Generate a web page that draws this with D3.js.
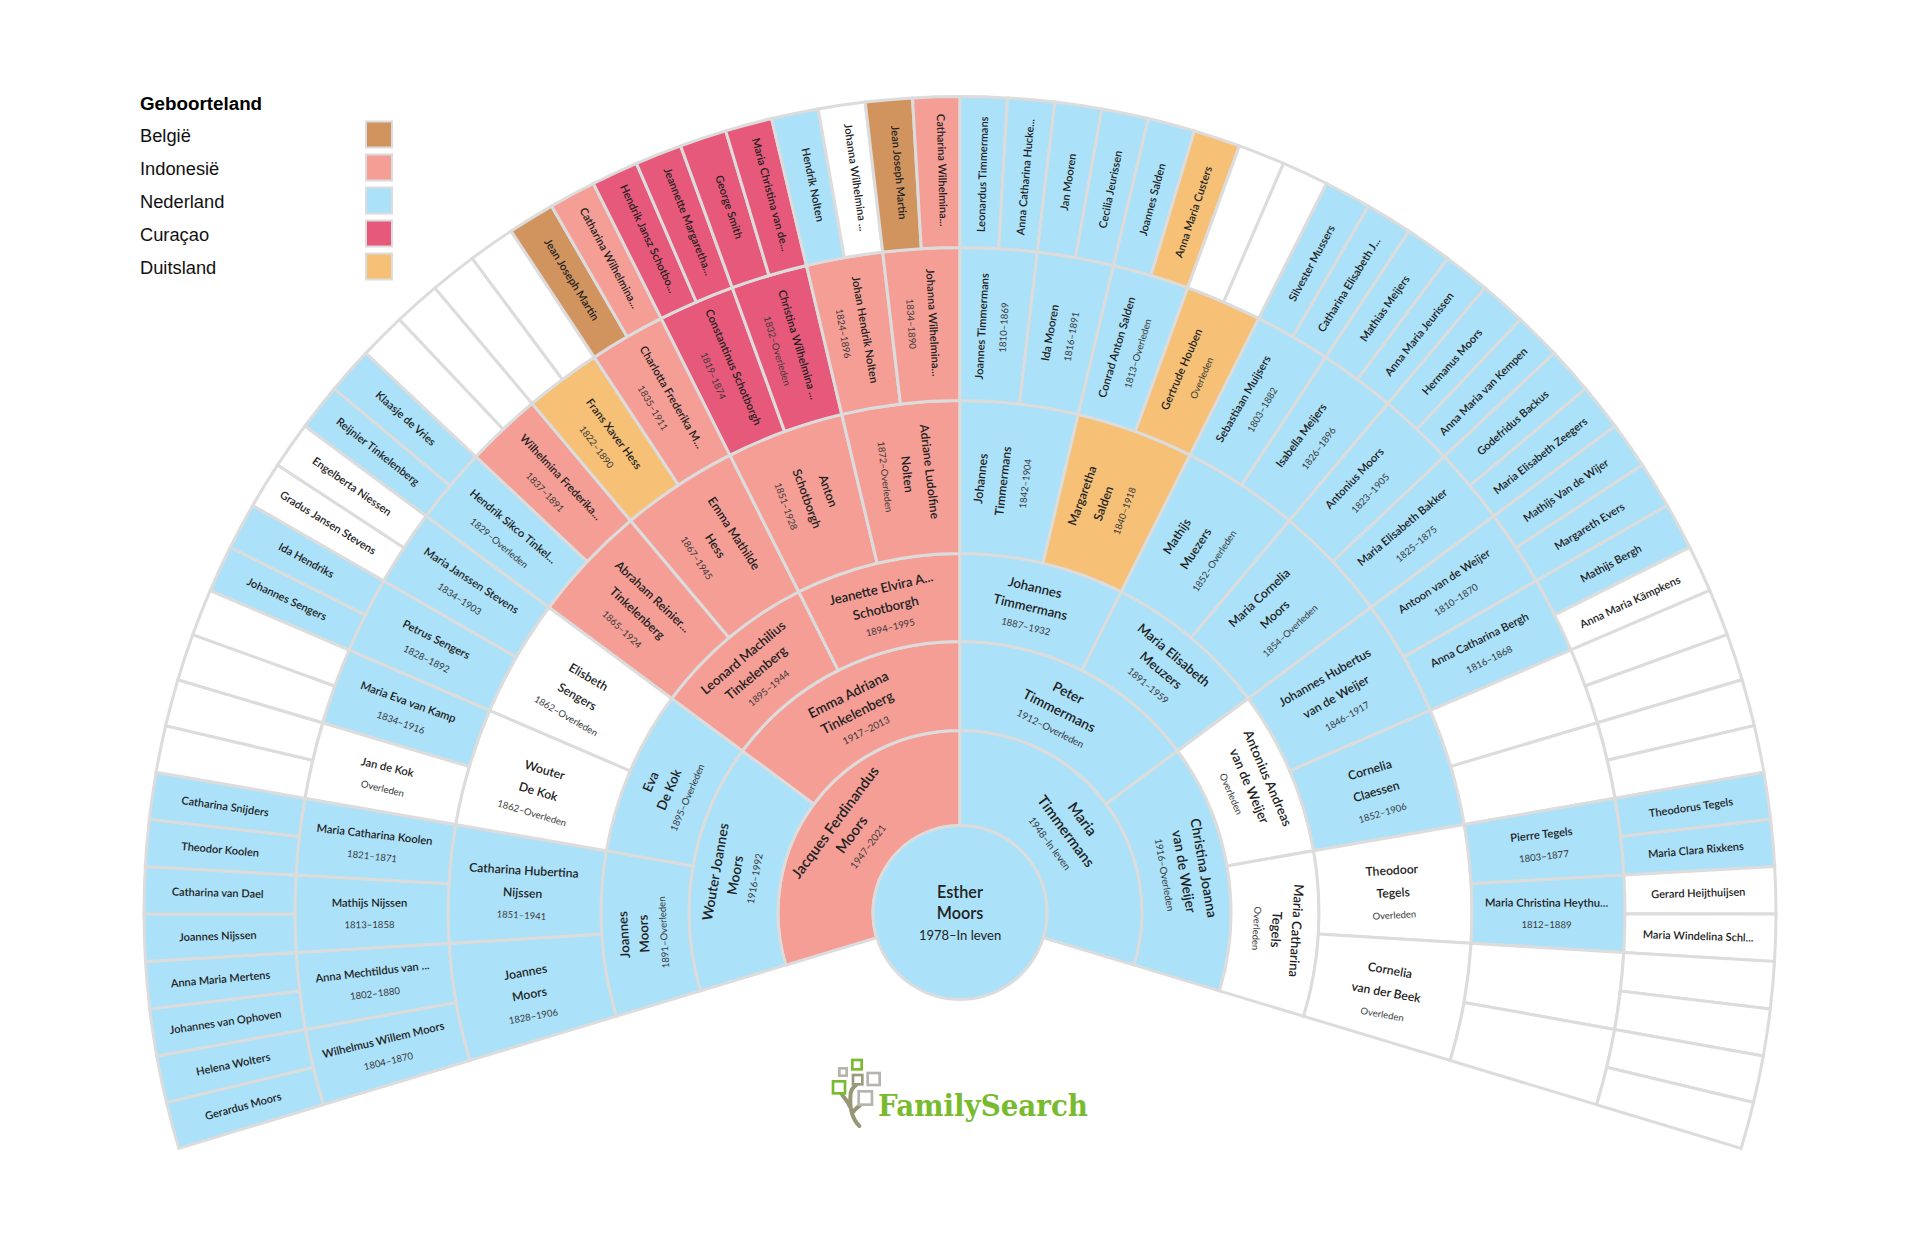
<!DOCTYPE html>
<html><head><meta charset="utf-8">
<script src="https://cdn.jsdelivr.net/npm/d3@7/dist/d3.min.js"></script>
<style>html,body{margin:0;padding:0;background:#fff}svg{display:block}</style>
</head><body>
<svg id="c" width="1920" height="1242"></svg>
<script>
// country codes: B België, S Indonesië, N Nederland, C Curaçao, O Duitsland, W unknown
const legendTitle = "Geboorteland";
const legendLabels = ["België","Indonesië","Nederland","Curaçao","Duitsland"];
const legendCodes = ["B","S","N","C","O"];
const rootName = ["Esther","Moors"], rootDate = "1978–In leven", rootCountry = "N";

const ring1Names = ["Jacques Ferdinandus|Moors","Maria|Timmermans"];
const ring1Dates = ["1947–2021","1948–In leven"];
const ring1Countries = "SN";

const ring2Names = ["Wouter Joannes|Moors","Emma Adriana|Tinkelenberg","Peter|Timmermans","Christina Joanna|van de Weijer"];
const ring2Dates = ["1916–1992","1917–2013","1912–Overleden","1916–Overleden"];
const ring2Countries = "NSNN";

const ring3Names = ["Joannes|Moors","Eva|De Kok","Leonard Machilius|Tinkelenberg","Jeanette Elvira A...|Schotborgh","Johannes|Timmermans","Maria Elisabeth|Meuzers","Antonius Andreas|van de Weijer","Maria Catharina|Tegels"];
const ring3Dates = ["1891–Overleden","1895–Overleden","1895–1944","1894–1995","1887–1932","1891–1959","Overleden","Overleden"];
const ring3Countries = "NNSSNNWW";

const ring4Names = ["Joannes|Moors","Catharina Hubertina|Nijssen","Wouter|De Kok","Elisbeth|Sengers","Abraham Reinier...|Tinkelenberg","Emma Mathilde|Hess","Anton|Schotborgh","Adriane Ludolfine|Nolten","Johannes|Timmermans","Margaretha|Salden","Mathijs|Muezers","Maria Cornelia|Moors","Johannes Hubertus|van de Weijer","Cornelia|Claessen","Theodoor|Tegels","Cornelia|van der Beek"];
const ring4Dates = ["1828–1906","1851–1941","1862–Overleden","1862–Overleden","1865–1924","1867–1945","1851–1928","1872–Overleden","1842–1904","1840–1918","1852–Overleden","1854–Overleden","1846–1917","1852–1906","Overleden","Overleden"];
const ring4Countries = "NNWWSSSSNONNNNWW";

const ring5Names = ["Wilhelmus Willem Moors","Anna Mechtildus van ...","Mathijs Nijssen","Maria Catharina Koolen","Jan de Kok","Maria Eva van Kamp","Petrus Sengers","Maria Janssen Stevens","Hendrik Sikco Tinkel...","Wilhelmina Frederika...","Frans Xaver Hess","Charlotta Frederika M...","Constantinus Schotborgh","Christina Wilhelmina ...","Johan Hendrik Nolten","Johanna Wilhelmina...",
 "Joannes Timmermans","Ida Mooren","Conrad Anton Salden","Gertrude Houben","Sebastiaan Muijsers","Isabella Meijers","Antonius Moors","Maria Elisabeth Bakker","Antoon van de Weijer","Anna Catharina Bergh","","","Pierre Tegels","Maria Christina Heythu...","",""];
const ring5Dates = ["1804–1870","1802–1880","1813–1858","1821–1871","Overleden","1834–1916","1828–1892","1834–1903","1829–Overleden","1837–1891","1822–1890","1835–1911","1819–1874","1832–Overleden","1824–1896","1834–1890",
 "1810–1869","1816–1891","1813–Overleden","Overleden","1803–1882","1826–1896","1823–1905","1825–1875","1810–1870","1816–1868","","","1803–1877","1812–1889","",""];
const ring5Countries = "NNNNWNNNNSOSCCSSNNNONNNNNNWWNNWW";

const ring6Names = ["Gerardus Moors","Helena Wolters","Johannes van Ophoven","Anna Maria Mertens","Joannes Nijssen","Catharina van Dael","Theodor Koolen","Catharina Snijders","","","","","Johannes Sengers","Ida Hendriks","Gradus Jansen Stevens","Engelberta Niessen","Reijnier Tinkelenberg","Klaasje de Vries","","","","","Jean Joseph Martin","Catharina Wilhelmina...","Hendrik Jansz Schotbo...","Jeannette Margaretha...","George Smith","Maria Christina van de...","Hendrik Nolten","Johanna Wilhelmina ...","Jean Joseph Martin","Catharina Wilhelmina...",
 "Leonardus Timmermans","Anna Catharina Hucke...","Jan Mooren","Cecilia Jeurissen","Joannes Salden","Anna Maria Custers","","","Silvester Mussers","Catharina Elisabeth J...","Mathias Meijers","Anna Maria Jeurissen","Hermanus Moors","Anna Maria van Kempen","Godefridus Backus","Maria Elisabeth Zeegers","Mathijs Van de Wijer","Margareth Evers","Mathijs Bergh","Anna Maria Kämpkens","","","","","Theodorus Tegels","Maria Clara Rixkens","Gerard Heijthuijsen","Maria Windelina Schl...","","","",""];
const ring6Countries = "NNNNNNNNWWWWNNWWNNWWWWBSCCCCNWBSNNNNNOWWNNNNNNNNNNNWWWWWNNWWWWWW";

// hb: text shift across the line at horizontal orientation; vl/vr: at vertical orientation, left and right half
const rings = [
 {names:ring1Names,dates:ring1Dates,countries:ring1Countries,mode:"tan",fs:14.8,ds:10,lh:20.5,hb:5,vl:-2,vr:-2,xl:-2},
 {names:ring2Names,dates:ring2Dates,countries:ring2Countries,mode:"tan",fs:13.8,ds:9.8,lh:20,hb:3,vl:-2,vr:-2,xl:-2},
 {names:ring3Names,dates:ring3Dates,countries:ring3Countries,mode:"tan",fs:13.2,ds:9.6,lh:20,hb:2,vl:-2,vr:-2,xl:-2},
 {names:ring4Names,dates:ring4Dates,countries:ring4Countries,mode:"rad",fs:12.2,ds:9.5,lh:22.5,hb:5,vl:1,vr:-8.5,xl:-6},
 {names:ring5Names,dates:ring5Dates,countries:ring5Countries,mode:"rad",fs:11.2,ds:9.6,lh:22,hb:0,vl:3.5,vr:-1.5,xl:-2},
 {names:ring6Names,dates:null,countries:ring6Countries,mode:"rad",fs:11,ds:9.5,lh:20,hb:0.5,vl:-4,vr:1,xl:-2}
];

const color = d3.scaleOrdinal().domain(["B","S","N","C","O","W"]).range(["#d2945f","#f59e96","#abe1f9","#e7597b","#f6c176","#ffffff"]);
const stroke = "#dcdcdc", ink = "#222222", ink2 = "#3a3a3a";
const fontStack = "Lato, 'Open Sans', sans-serif";

const cx = 960, cy = 912.5, halfSpan = 106.8;
const radii = [87,182,271,359,512,665,816];
const angle = d3.scaleLinear().domain([0,1]).range([-halfSpan,halfSpan]);
const rad = d => d*Math.PI/180;

const svg = d3.select("#c");
const root = svg.append("g").attr("transform",`translate(${cx},${cy})`);
const arc = d3.arc();

rings.forEach((ring,ri)=>{
  const n = ring.names.length;
  const g = root.append("g");
  const inner = radii[ri], outer = radii[ri+1], mid = (inner+outer)/2;
  ring.names.forEach((nm,i)=>{
    const a0 = angle(i/n), a1 = angle((i+1)/n), a = (a0+a1)/2;
    g.append("path")
      .attr("d",arc({innerRadius:inner,outerRadius:outer,startAngle:rad(a0),endAngle:rad(a1)}))
      .attr("fill",color(ring.countries[i])).attr("stroke",stroke).attr("stroke-width",3).attr("stroke-linejoin","miter");
    if(!nm) return;
    const lines = nm.split("|").map(t=>({t,date:false}));
    if(ring.dates && ring.dates[i]) lines.push({t:ring.dates[i],date:true});
    let rot = a;
    if(ring.mode==="rad") rot = a<0 ? a+90 : a-90;
    const x = mid*Math.sin(rad(a)), y = -mid*Math.cos(rad(a));
    const k = Math.min(Math.abs(rot),90)/90;
    const shift = ring.hb + ((a<0?ring.vl:ring.vr)-ring.hb)*k;
    const sx = a<0 ? -2 + (ring.xl+2)*Math.abs(Math.sin(rad(rot))) : -2;
    const t = g.append("g").attr("transform",`translate(${x},${y}) rotate(${rot}) translate(${sx},${shift})`);
    const y0 = -(lines.length-1)*ring.lh/2;
    lines.forEach((l,j)=>{
      t.append("text").attr("y",y0+j*ring.lh).attr("dy","0.36em").attr("text-anchor","middle")
       .attr("font-family",fontStack).attr("font-weight",l.date?400:600)
       .attr("font-size",l.date?ring.ds:ring.fs).attr("fill",l.date?ink2:ink).text(l.t);
    });
  });
});

// centre person
root.append("circle").attr("r",radii[0]).attr("fill",color(rootCountry)).attr("stroke",stroke).attr("stroke-width",3);
rootName.forEach((t,i)=>root.append("text").attr("y",-14.5+i*21).attr("text-anchor","middle")
  .attr("font-family",fontStack).attr("font-weight",600).attr("font-size",16.2).attr("fill",ink).text(t));
root.append("text").attr("y",27).attr("text-anchor","middle").attr("font-family",fontStack)
  .attr("font-size",13).attr("fill",ink).text(rootDate);

// legend
const lg = svg.append("g");
lg.append("text").attr("x",140).attr("y",110).attr("font-family","'Liberation Sans',Arial,sans-serif")
  .attr("font-weight",700).attr("font-size",18.8).attr("fill","#000").text(legendTitle);
const ly = d3.scalePoint().domain(legendLabels).range([135,267]);
legendLabels.forEach((l,i)=>{
  lg.append("text").attr("x",140).attr("y",ly(l)+7).attr("font-family","'Liberation Sans',Arial,sans-serif")
    .attr("font-size",18.3).attr("fill","#111").text(l);
  lg.append("rect").attr("x",366).attr("y",ly(l)-13.5).attr("width",26).attr("height",26)
    .attr("fill",color(legendCodes[i])).attr("stroke",stroke).attr("stroke-width",2);
});

// FamilySearch logo
const logo = svg.append("g").attr("transform","translate(820,1050) scale(0.3333)");
logo.append("path").attr("d","M118,228 C95,205 88,170 92,130 C94,115 104,108 112,102 M90,170 C84,155 74,145 66,134 M96,190 C104,178 112,172 122,164")
  .attr("fill","none").attr("stroke","#979777").attr("stroke-width",12).attr("stroke-linecap","round");
[[97,30,28,"#78bb2e"],[58,55,22,"#b5b5ad"],[99,75,28,"#9a9a7c"],[143,69,36,"#b5b5ad"],[39,94,36,"#78bb2e"],[116,124,40,"#b5b5ad"]]
 .forEach(s=>logo.append("rect").attr("x",s[0]).attr("y",s[1]).attr("width",s[2]).attr("height",s[2])
   .attr("fill","#fff").attr("stroke",s[3]).attr("stroke-width",8));
svg.append("text").attr("x",878).attr("y",1116).attr("font-family","'DejaVu Serif',serif").attr("font-weight",700)
  .attr("font-size",29).attr("fill","#78bb2e").attr("textLength",210).attr("lengthAdjust","spacingAndGlyphs").text("FamilySearch");
</script>
</body></html>
